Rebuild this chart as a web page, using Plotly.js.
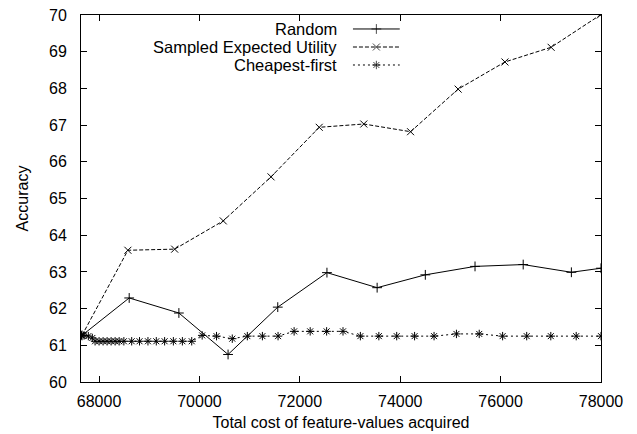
<!DOCTYPE html>
<html>
<head>
<meta charset="utf-8">
<script src="https://cdn.plot.ly/plotly-3.0.1.min.js"></script>
<style>html,body{margin:0;padding:0;background:#fff;} #chart{width:637px;height:434px;}</style>
</head>
<body>
<div id="chart"></div>
<script>
// ---- data ----
var randomX = [67660, 68600, 69590, 70570, 71560, 72540, 73540, 74500, 75490, 76450, 77410, 78000];
var randomY = [61.27, 62.29, 61.88, 60.75, 62.04, 62.98, 62.57, 62.92, 63.15, 63.20, 62.99, 63.10];

var seuX = [67660, 68574, 69506, 70474, 71426, 72386, 73274, 74206, 75154, 76086, 77006, 77986];
var seuY = [61.27, 63.59, 63.62, 64.39, 65.59, 66.94, 67.03, 66.82, 67.98, 68.72, 69.12, 70.00];

var cheapX = [67650, 67700, 67786, 67866, 67920, 68000, 68080, 68160, 68240, 68320, 68400, 68494,
              68650, 68806, 68974, 69140, 69306, 69480, 69660, 69846, 70054, 70340, 70654, 70954,
              71254, 71566, 71886, 72206, 72534, 72860, 73206, 73574, 73930, 74286, 74674, 75120,
              75574, 76040, 76520, 77000, 77506, 78000];
var cheapY = [61.27, 61.27, 61.25, 61.20, 61.11, 61.11, 61.11, 61.11, 61.11, 61.11, 61.11, 61.11,
              61.11, 61.11, 61.11, 61.11, 61.11, 61.11, 61.11, 61.11, 61.27, 61.25, 61.18, 61.25,
              61.25, 61.25, 61.38, 61.38, 61.38, 61.38, 61.25, 61.25, 61.25, 61.25, 61.25, 61.31,
              61.31, 61.25, 61.25, 61.25, 61.25, 61.25];

var seriesNames = ["Random", "Sampled Expected Utility", "Cheapest-first"];
var xTicks = [68000, 70000, 72000, 74000, 76000, 78000];
var yTicks = [60, 61, 62, 63, 64, 65, 66, 67, 68, 69, 70];

// ---- styles ----
var FONT = "Liberation Sans, Arial, sans-serif";
var styles = [
  {dash: "solid", symbol: "cross-thin-open", size: 7},
  {dash: "4px,2px", symbol: "x-thin-open", size: 7},
  {dash: "2px,3px", symbol: "asterisk-open", size: 7}
];

var dataX = [randomX, seuX, cheapX];
var dataY = [randomY, seuY, cheapY];
var traces = [];
for (var i = 0; i < 3; i++) {
  traces.push({
    x: dataX[i], y: dataY[i], type: "scatter", mode: "lines+markers",
    name: seriesNames[i], showlegend: false, cliponaxis: true,
    line: {color: "#000", width: 1, dash: styles[i].dash},
    marker: {symbol: styles[i].symbol, size: styles[i].size, color: "#000", line: {color: "#000", width: 1}}
  });
}

// custom legend (text left of sample) on an overlay axis in [0,1]
var legY = [0.9619, 0.9128, 0.8638];
var annotations = [];
for (var j = 0; j < 3; j++) {
  traces.push({
    x: [0.523, 0.568, 0.613], y: [legY[j], legY[j], legY[j]],
    xaxis: "x2", yaxis: "y2", type: "scatter", mode: "lines+markers", showlegend: false,
    hoverinfo: "skip",
    line: {color: "#000", width: 1, dash: styles[j].dash},
    marker: {symbol: styles[j].symbol, size: [0, styles[j].size, 0], color: "#000", line: {color: "#000", width: 1}}
  });
  annotations.push({
    xref: "paper", yref: "paper", x: 0.494, y: legY[j], xanchor: "right", yanchor: "middle",
    borderpad: 0,
    text: seriesNames[j], showarrow: false, font: {family: FONT, size: 16.5, color: "#000"}
  });
}

var axisCommon = {
  showline: true, linecolor: "#000", linewidth: 1, mirror: "ticks",
  ticks: "inside", ticklen: 6, tickwidth: 1, tickcolor: "#000",
  showgrid: false, zeroline: false,
  tickfont: {family: FONT, size: 16, color: "#000"}
};

var layout = {
  width: 637, height: 434,
  margin: {l: 81, r: 36, t: 15, b: 52, pad: 0},
  paper_bgcolor: "#fff", plot_bgcolor: "#fff",
  font: {family: FONT, size: 16, color: "#000"},
  showlegend: false,
  xaxis: Object.assign({}, axisCommon, {
    range: [67640, 78000], tickvals: xTicks, ticktext: xTicks.map(String),
    ticklabelstandoff: 5,
    title: {text: "Total cost of feature-values acquired", font: {family: FONT, size: 16, color: "#000"}, standoff: 7}
  }),
  yaxis: Object.assign({}, axisCommon, {
    range: [60, 70], tickvals: yTicks, ticktext: yTicks.map(String),
    ticklabelstandoff: 10,
    title: {text: "Accuracy", font: {family: FONT, size: 16, color: "#000"}, standoff: 16}
  }),
  xaxis2: {overlaying: "x", anchor: "y2", range: [0, 1], visible: false, fixedrange: true},
  yaxis2: {overlaying: "y", anchor: "x2", range: [0, 1], visible: false, fixedrange: true},
  annotations: annotations
};

Plotly.newPlot("chart", traces, layout, {displayModeBar: false, staticPlot: true});
</script>
</body>
</html>
